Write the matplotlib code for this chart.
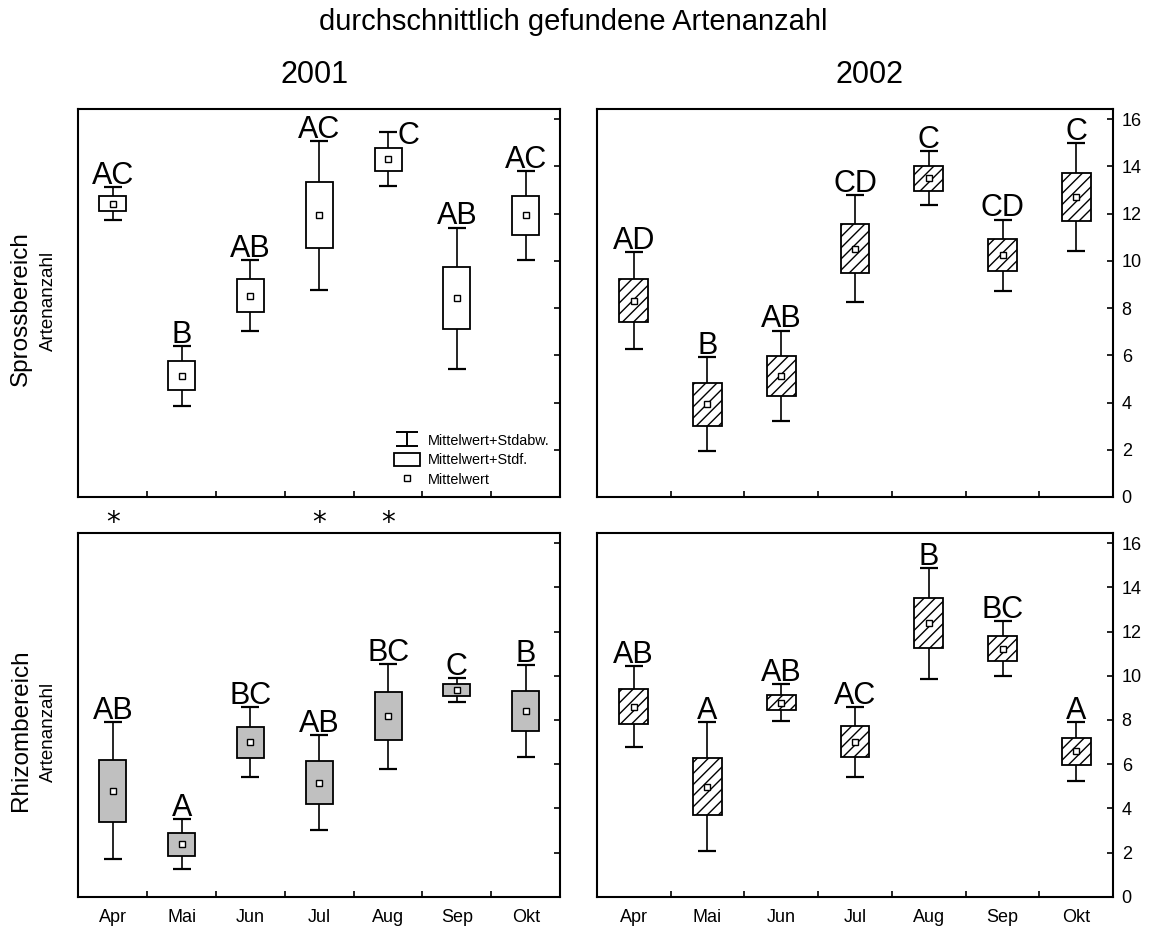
import matplotlib
matplotlib.use("Agg")
import matplotlib.pyplot as plt
import numpy as np
from matplotlib.path import Path
from matplotlib.lines import Line2D
from matplotlib.patches import Patch

plt.rcParams['font.family'] = ['Liberation Sans', 'DejaVu Sans']
plt.rcParams['hatch.linewidth'] = 1.0

monate = ['Apr', 'Mai', 'Jun', 'Jul', 'Aug', 'Sep', 'Okt']

# Sprossbereich 2001
spross01_mw = [12.42, 5.13, 8.52, 11.93, 14.30, 8.42, 11.93]
spross01_se = [0.33, 0.61, 0.69, 1.39, 0.49, 1.30, 0.82]
spross01_sd = [0.70, 1.28, 1.51, 3.16, 1.14, 2.99, 1.88]
spross01_gr = ['AC', 'B', 'AB', 'AC', 'C', 'AB', 'AC']

# Sprossbereich 2002
spross02_mw = [8.32, 3.92, 5.13, 10.52, 13.50, 10.24, 12.71]
spross02_se = [0.93, 0.90, 0.85, 1.02, 0.53, 0.69, 1.02]
spross02_sd = [2.06, 1.99, 1.92, 2.28, 1.14, 1.51, 2.28]
spross02_gr = ['AD', 'B', 'AB', 'CD', 'C', 'CD', 'C']

# Rhizombereich 2001
rhizom01_mw = [4.80, 2.37, 7.00, 5.17, 8.17, 9.37, 8.39]
rhizom01_se = [1.40, 0.53, 0.70, 0.96, 1.08, 0.27, 0.91]
rhizom01_sd = [3.11, 1.13, 1.57, 2.16, 2.37, 0.54, 2.08]
rhizom01_gr = ['AB', 'A', 'BC', 'AB', 'BC', 'C', 'B']

# Rhizombereich 2002
rhizom02_mw = [8.60, 4.98, 8.79, 7.01, 12.37, 11.23, 6.58]
rhizom02_se = [0.78, 1.30, 0.35, 0.70, 1.13, 0.57, 0.62]
rhizom02_sd = [1.83, 2.91, 0.84, 1.57, 2.51, 1.25, 1.33]
rhizom02_gr = ['AB', 'A', 'AB', 'AC', 'B', 'BC', 'A']

# signifikante Unterschiede Spross/Rhizom 2001
signif_2001 = [True, False, False, True, True, False, False]

fig = plt.figure(figsize=(11.52, 9.26), dpi=100)
ax_tl = fig.add_axes([0.0681, 0.4633, 0.4181, 0.4195])
ax_tr = fig.add_axes([0.5180, 0.4633, 0.4484, 0.4195])
ax_bl = fig.add_axes([0.0681, 0.0316, 0.4181, 0.3925])
ax_br = fig.add_axes([0.5180, 0.0316, 0.4484, 0.3925])

x = np.arange(len(monate))


def panel(ax, mw, se, sd, gruppen, farbe, hatch, unten, rechts):
    mw = np.array(mw)
    se = np.array(se)
    sd = np.array(sd)
    ax.errorbar(x, mw, yerr=sd, fmt='none', ecolor='k', elinewidth=1.2,
                capsize=6.5, capthick=1.6, zorder=1)
    ax.bar(x, 2 * se, bottom=mw - se, width=0.39, facecolor=farbe,
           edgecolor='k', linewidth=1.3, hatch=hatch, zorder=2)
    ax.plot(x, mw, 's', ms=4, mfc='white', mec='k', mew=1.0, zorder=3)
    for i in range(len(x)):
        oben = mw[i] + sd[i]
        if oben > 15.2:
            # kein Platz mehr oben -> Buchstabe rechts neben den Strich
            ax.annotate(gruppen[i], (x[i] + 0.13, oben), ha='left',
                        va='center_baseline', fontsize=22)
        else:
            ax.annotate(gruppen[i], (x[i], oben), xytext=(0, 2.2),
                        textcoords='offset points', ha='center',
                        va='baseline', fontsize=22)
    ax.set_xlim(-0.5, 6.5)
    ax.set_ylim(0, 16.45)
    ax.set_xticks(x)
    ax.set_xticks(np.arange(0.5, 6.5), minor=True)
    if unten:
        ax.set_xticklabels(monate)
    else:
        ax.set_xticklabels([])
    ax.tick_params(axis='x', which='major', length=0, pad=9, labelsize=13)
    ax.tick_params(axis='x', which='minor', direction='in', length=4, width=1.2)
    ax.yaxis.tick_right()
    ax.set_yticks(np.arange(0, 17, 2))
    ax.tick_params(axis='y', direction='in', length=4, width=1.2,
                   labelright=rechts, labelsize=13, pad=6)
    for s in ax.spines.values():
        s.set_linewidth(1.5)


panel(ax_tl, spross01_mw, spross01_se, spross01_sd, spross01_gr, 'white', None, False, False)
panel(ax_tr, spross02_mw, spross02_se, spross02_sd, spross02_gr, 'white', '///', False, True)
panel(ax_bl, rhizom01_mw, rhizom01_se, rhizom01_sd, rhizom01_gr, '#c0c0c0', None, True, False)
panel(ax_br, rhizom02_mw, rhizom02_se, rhizom02_sd, rhizom02_gr, 'white', '///', True, True)

for i, s in enumerate(signif_2001):
    if s:
        ax_tl.annotate('*', (x[i], -0.067), xycoords=('data', 'axes fraction'),
                       ha='center', va='center', fontsize=20,
                       family='DejaVu Sans', annotation_clip=False)

# Legende
stdabw = Path([(-1, 0.6), (1, 0.6), (0, 0.6), (0, -0.6), (-1, -0.6), (1, -0.6)],
              [Path.MOVETO, Path.LINETO, Path.MOVETO, Path.LINETO, Path.MOVETO, Path.LINETO])
handles = [Line2D([], [], marker=stdabw, ms=16, mew=1.4, color='k', mfc='none', ls='none'),
           Patch(facecolor='white', edgecolor='k', linewidth=1.3),
           Line2D([], [], marker='s', ms=4, mfc='white', mec='k', mew=1.0, ls='none')]
ax_tl.legend(handles, ['Mittelwert+Stdabw.', 'Mittelwert+Stdf.', 'Mittelwert'],
             loc='lower right', frameon=False, fontsize=10.4, handlelength=1.8,
             handleheight=1.0, labelspacing=0.35, handletextpad=0.6,
             borderaxespad=0.3)

fig.text(0.498, 0.976, 'durchschnittlich gefundene Artenanzahl', ha='center',
         va='center', fontsize=21)
fig.text(0.273, 0.919, '2001', ha='center', va='center', fontsize=22)
fig.text(0.755, 0.919, '2002', ha='center', va='center', fontsize=22)

fig.text(0.018, 0.667, 'Sprossbereich', rotation=90, ha='center', va='center', fontsize=17.5)
fig.text(0.042, 0.675, 'Artenanzahl', rotation=90, ha='center', va='center', fontsize=13.5)
fig.text(0.018, 0.211, 'Rhizombereich', rotation=90, ha='center', va='center', fontsize=17.5)
fig.text(0.042, 0.210, 'Artenanzahl', rotation=90, ha='center', va='center', fontsize=13.5)

fig.savefig('out.png', dpi=100)
